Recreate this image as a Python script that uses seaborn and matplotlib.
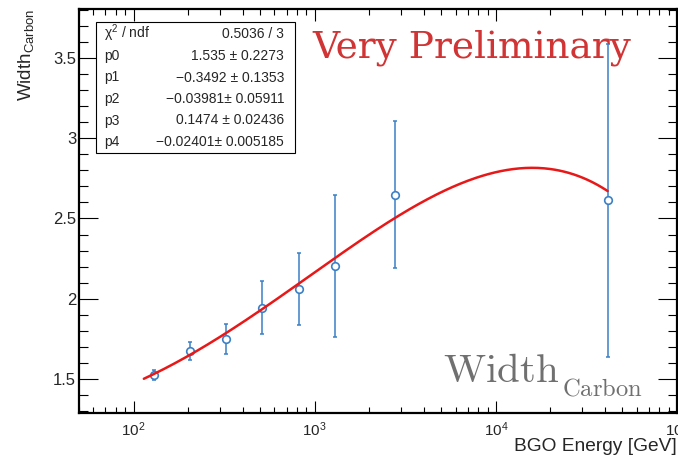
import numpy as np
import pandas as pd
import matplotlib
matplotlib.use("Agg")
import matplotlib.pyplot as plt
import seaborn as sns
from matplotlib.patches import Rectangle
from matplotlib.ticker import LogLocator, MultipleLocator, NullFormatter, FormatStrFormatter

# ---- data ----
energy = [129, 206, 325, 515, 818, 1290, 2770, 41600]          # BGO energy [GeV]
width = [1.525, 1.674, 1.747, 1.945, 2.060, 2.203, 2.649, 2.614]
width_err = [0.030, 0.056, 0.094, 0.166, 0.225, 0.443, 0.458, 0.975]
fit_params = [1.535, -0.3492, -0.03981, 0.1474, -0.02401]      # p0..p4, pol4 in log10(E)
fit_range = [114, 41400]
stat_names = ["\u03c7$^{2}$ / ndf", "p0", "p1", "p2", "p3", "p4"]
stat_values = ["0.5036 / 3", "1.535 \u00b1 0.2273", "\u22120.3492 \u00b1 0.1353",
               "\u22120.03981\u00b1 0.05911", "0.1474 \u00b1 0.02436", "\u22120.02401\u00b1 0.005185"]

sns.set_theme(style="ticks")
plt.rcParams["font.family"] = ["Liberation Sans", "DejaVu Sans"]
plt.rcParams["mathtext.fontset"] = "custom"
plt.rcParams["mathtext.rm"] = "Liberation Sans"
plt.rcParams["mathtext.it"] = "Liberation Sans:italic"
plt.rcParams["mathtext.bf"] = "Liberation Sans:bold"

W, H = 678, 458
fig = plt.figure(figsize=(W / 100, H / 100), dpi=100)
fig.patch.set_facecolor("white")
ax = fig.add_axes([79 / W, (H - 413) / H, 598 / W, 404 / H])
ax.set_facecolor("white")

blue = "#3b80c6"
red = "#e81818"

df = pd.DataFrame({"energy": energy, "width": width, "err": width_err})

ax.errorbar(df["energy"], df["width"], yerr=df["err"], fmt="none", ecolor=blue,
            elinewidth=1.1, capsize=1.6, capthick=1.1, zorder=2)
sns.scatterplot(data=df, x="energy", y="width", ax=ax, marker="o", s=30,
                facecolor="white", edgecolor=blue, linewidth=1.2, zorder=3, legend=False)

t = np.linspace(np.log10(fit_range[0]), np.log10(fit_range[1]), 300)
fit_df = pd.DataFrame({"energy": 10 ** t, "width": np.polyval(fit_params[::-1], t)})
sns.lineplot(data=fit_df, x="energy", y="width", ax=ax, color=red, linewidth=1.8,
             estimator=None, sort=False, zorder=4)

ax.set_xscale("log")
ax.set_xlim(50, 1e5)
ax.set_ylim(1.288, 3.805)
ax.xaxis.set_major_locator(LogLocator(base=10, numticks=10))
ax.xaxis.set_minor_locator(LogLocator(base=10, subs=np.arange(2, 10), numticks=20))
ax.xaxis.set_minor_formatter(NullFormatter())
ax.yaxis.set_major_locator(MultipleLocator(0.5))
ax.yaxis.set_minor_locator(MultipleLocator(0.1))
ax.yaxis.set_major_formatter(FormatStrFormatter("%g"))

ax.tick_params(which="both", direction="in", top=True, right=True, color="black", width=0.8)
ax.tick_params(axis="y", which="major", length=13.5, labelsize=12, pad=2)
ax.tick_params(axis="y", which="minor", length=6.5)
ax.tick_params(axis="x", which="major", length=8.5, labelsize=11, pad=5)
ax.tick_params(axis="x", which="minor", length=4.3)
for s in ax.spines.values():
    s.set_linewidth(1.6)
    s.set_color("black")
    s.set_visible(True)

ax.set_xlabel("BGO Energy [GeV]", fontsize=13.8, loc="right")
ax.xaxis.set_label_coords(1.0, -0.063)
ax.set_ylabel(r"Width$_{\mathrm{Carbon}}$", fontsize=13.5, loc="top")
ax.yaxis.set_label_coords(-0.072, 1.0)

# stats box
rect = Rectangle((96 / W, (H - 153) / H), 199 / W, 131 / H, transform=fig.transFigure,
                 facecolor="white", edgecolor="black", linewidth=0.8, zorder=5)
fig.add_artist(rect)
baselines = [38.5, 60, 81.5, 103, 124.5, 146]
for name, val, yb in zip(stat_names, stat_values, baselines):
    fig.text(104 / W, (H - yb) / H, name, fontsize=10, ha="left", va="baseline", zorder=6)
    fig.text(284 / W, (H - yb) / H, val, fontsize=10, ha="right", va="baseline", zorder=6)

# overlay texts
fig.text(472 / W, (H - 58) / H, "Very Preliminary", color="#d03434", fontsize=27,
         family="DejaVu Serif", ha="center", va="baseline", zorder=6)
fig.text(443 / W, (H - 382) / H, r"$\mathrm{Width}$", color="#707070", fontsize=29.5,
         math_fontfamily="cm", ha="left", va="baseline", zorder=6)
fig.text(562 / W, (H - 395) / H, r"$\mathrm{Carbon}$", color="#707070", fontsize=17.7,
         math_fontfamily="cm", ha="left", va="baseline", zorder=6)

fig.savefig("out.png", dpi=100)
